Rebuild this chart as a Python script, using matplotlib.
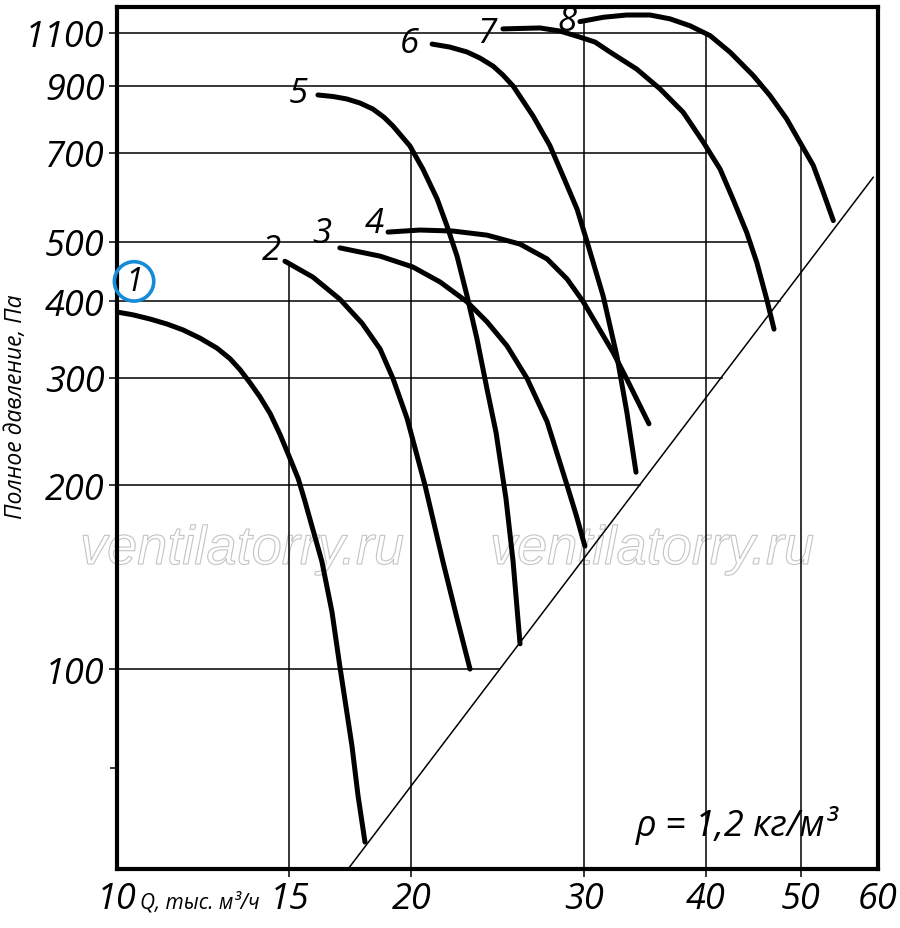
import numpy as np
import matplotlib
matplotlib.use("Agg")
import matplotlib.pyplot as plt
import matplotlib.transforms as mtransforms
from matplotlib.textpath import TextPath
from matplotlib.patches import PathPatch
from matplotlib.font_manager import FontProperties

# fan curves: Q, thousand m3/h  vs  total pressure, Pa
q1 = [10.0, 10.38, 10.81, 11.25, 11.68, 12.16, 12.66, 13.05, 13.36, 13.68, 14.00, 14.34,
      14.68, 15.03, 15.32, 15.57, 15.75, 16.20, 16.59, 16.90, 17.18, 17.39, 17.64, 17.93]
p1 = [384, 380, 374, 367, 359, 348, 335, 322, 309, 294, 279, 262,
      242, 221, 205, 188, 176, 150, 124, 101, 85.0, 74.8, 62.0, 52.1]
q2 = [14.85, 15.86, 16.90, 17.81, 18.58, 19.15, 19.80, 20.65, 21.54, 22.27, 22.96]
p2 = [465, 438, 403, 368, 334, 299, 257, 200, 150, 121, 100]
q3 = [16.90, 18.58, 20.07, 21.40, 22.80, 23.90, 25.05, 26.26, 27.53, 28.85, 29.47, 30.09]
p3 = [489, 474, 455, 430, 399, 370, 338, 299, 254, 200, 179, 159]
q4 = [18.93, 20.41, 22.06, 23.90, 25.83, 27.53, 28.85, 29.95, 32.15, 33.22, 34.99]
p4 = [519, 523, 521, 513, 496, 469, 435, 400, 330, 298, 252]
q5 = [16.05, 16.63, 17.18, 17.72, 18.27, 18.75, 19.15, 19.93, 20.55, 21.25, 21.75, 22.27,
      22.80, 23.34, 23.90, 24.41, 24.99, 25.41, 25.83]
p5 = [870, 865, 857, 844, 825, 800, 774, 718, 658, 588, 531, 474,
      408, 347, 287, 244, 190, 150, 110]
q6 = [21.00, 21.90, 22.80, 23.50, 24.24, 24.81, 25.41, 26.63, 27.71, 28.58, 29.54, 30.25,
      31.41, 32.45, 33.22, 33.94]
p6 = [1054, 1042, 1023, 1000, 970, 938, 900, 804, 719, 641, 566, 500,
      408, 325, 263, 210]
q7 = [24.81, 27.07, 28.38, 29.74, 30.82, 31.92, 34.00, 35.92, 37.93, 39.75, 41.37, 42.64,
      44.05, 45.10, 46.17, 46.97]
p7 = [1116, 1120, 1107, 1082, 1062, 1023, 959, 890, 815, 729, 658, 588,
      518, 463, 403, 360]
q8 = [29.74, 31.43, 33.20, 35.08, 36.77, 38.55, 40.41, 42.36, 44.73, 46.53, 48.39, 49.93,
      51.52, 52.74, 54.01]
p8 = [1147, 1166, 1176, 1176, 1159, 1129, 1088, 1022, 936, 868, 795, 728,
      667, 603, 542]

curve_names = ["1", "2", "3", "4", "5", "6", "7", "8"]
# where each curve number sits (Q, P)
name_q = [10.41, 14.40, 16.20, 18.31, 15.31, 19.89, 23.90, 28.85]
name_p = [431, 485, 517, 537, 875, 1058, 1099, 1150]

# boundary line (lower limit of working zone)
diag_q = [17.23, 59.33]
diag_p = [47.08, 638]

x_ticks = [10, 15, 20, 30, 40, 50, 60]
y_ticks = [69, 100, 200, 300, 400, 500, 700, 900, 1100]
y_tick_labels = ["", "100", "200", "300", "400", "500", "700", "900", "1100"]

# grid: vertical lines at these Q, horizontal at these P (with right ends)
vgrid_q = [15, 20, 30, 40, 50]
hgrid_p = [100, 200, 300, 400, 500, 700, 900, 1100]
hgrid_end = [24.6, 34.3, 41.6, 47.6, 44.1, 40.0, 45.8, 40.0]

curves = [(q1, p1), (q2, p2), (q3, p3), (q4, p4), (q5, p5), (q6, p6), (q7, p7), (q8, p8)]


def envelope(x):
    """highest curve pressure at flow x"""
    best = None
    for q, p in curves:
        if q[0] <= x <= q[-1]:
            v = 10 ** np.interp(np.log10(x), np.log10(q), np.log10(p))
            if best is None or v > best:
                best = v
    return best


FONT = "Open Sans"
plt.rcParams["font.family"] = [FONT, "DejaVu Sans"]
plt.rcParams["font.style"] = "italic"

fig = plt.figure(figsize=(9, 9.29), dpi=100)
ax = fig.add_axes([117 / 900, 1 - 870 / 929, 761 / 900, 862 / 929])
ax.set_xscale("log")
ax.set_yscale("log")
ylo, yhi = 47.08, 1212
ax.set_xlim(10, 60)
ax.set_ylim(ylo, yhi)

# grid
for x in vgrid_q:
    ax.plot([x, x], [ylo, envelope(x)], color="black", lw=1.1, zorder=1)
for y, xe in zip(hgrid_p, hgrid_end):
    ax.plot([10, xe], [y, y], color="black", lw=1.1, zorder=1)

ax.plot(diag_q, diag_p, color="black", lw=1.1, zorder=2)

for q, p in curves:
    ax.plot(q, p, color="black", lw=3.6, solid_capstyle="round",
            solid_joinstyle="round", zorder=3)

for i, name in enumerate(curve_names):
    if name == "1":
        ax.text(name_q[i], name_p[i], name, fontsize=23, ha="center", va="center",
                zorder=4, bbox=dict(boxstyle="circle,pad=0.1", fc="none",
                                    ec="#168bd6", lw=2.6))
    else:
        ax.text(name_q[i], name_p[i], name, fontsize=25, ha="center", va="center", zorder=4)

# ticks
ax.minorticks_off()
ax.set_xticks(x_ticks)
ax.set_xticklabels([str(v) for v in x_ticks])
ax.set_yticks(y_ticks)
ax.set_yticklabels(y_tick_labels)
ax.tick_params(axis="both", direction="out", length=6, width=1.1, labelsize=26, pad=3)
ax.tick_params(axis="x", pad=3)
xt = ax.xaxis.get_major_ticks()
xt[0].tick1line.set_visible(False)
xt[-1].tick1line.set_visible(False)
ax.yaxis.get_major_ticks()[0].tick1line.set_markersize(5)

for s in ax.spines.values():
    s.set_linewidth(3.0)

ax.text(0.109, -0.038, "Q, тыс. м³/ч", transform=ax.transAxes, fontsize=15,
        ha="center", va="center")
fig.text(16 / 900, 1 - 407 / 929, "Полное давление, Па", rotation=90, fontsize=16.5,
         ha="center", va="center")
ax.text(0.815, 0.052, "ρ = 1,2 кг/м³", transform=ax.transAxes, fontsize=26,
        ha="center", va="center")

# watermark (outlined text)
fp = FontProperties(family="Liberation Sans", style="italic")
for left in (80, 490):
    tp = TextPath((0, 0), "ventilatorry.ru", size=39, prop=fp)
    tr = mtransforms.Affine2D().scale(100 / 72).translate(left, 929 - 565)
    wm = PathPatch(tp, transform=tr, facecolor="none", edgecolor="#c4c4c4",
                   lw=0.8, zorder=0.5, clip_on=False)
    ax.add_artist(wm)
    wm.set_clip_on(False)

fig.savefig("out.png", dpi=100)
